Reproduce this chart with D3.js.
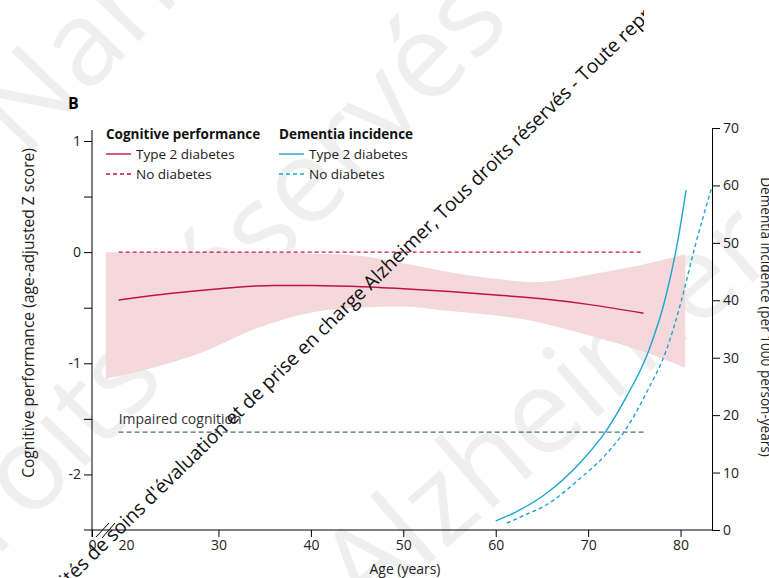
<html>
<head>
<meta charset="utf-8">
<script src="https://cdnjs.cloudflare.com/ajax/libs/d3/7.8.5/d3.min.js"></script>
<style>
body {margin:0; background:#fff;}
svg {display:block;}
text {font-family:"Open Sans", sans-serif;}
</style>
</head>
<body>
<svg width="769" height="578"></svg>
<script>
// ticks
const ageTicks = [0, 20, 30, 40, 50, 60, 70, 80];
const zTicks = [1, 0.5, 0, -0.5, -1, -1.5, -2];
const dementiaTicks = [0, 10, 20, 30, 40, 50, 60, 70];

// cognitive performance, type 2 diabetes (age-adjusted Z score)
const cogAge = [19.2, 22, 25, 28, 32, 36, 40, 45, 50, 55, 60, 65, 70, 76];
const cogT2D = [-0.43, -0.40, -0.37, -0.345, -0.315, -0.30, -0.30, -0.31, -0.33, -0.355, -0.385, -0.42, -0.47, -0.55];
// confidence band
const bandAge = [17.8, 22, 28, 34, 39, 45, 50, 55, 60, 64, 67, 71, 75.5, 80.5];
const bandUpper = [0, 0, 0, 0, -0.01, -0.03, -0.10, -0.18, -0.24, -0.27, -0.25, -0.19, -0.12, -0.02];
const bandLower = [-1.14, -1.06, -0.91, -0.69, -0.56, -0.50, -0.49, -0.53, -0.57, -0.62, -0.68, -0.77, -0.88, -1.04];
// reference lines
const refAge = [19.2, 76];
const cogNoDiabetes = [0, 0];
const impaired = [-1.62, -1.62];

// dementia incidence (per 1000 person-years)
const demAgeT2D = [60, 62, 65.5, 69, 72, 74, 76.5, 78.3, 79.6, 80.6];
const demT2D = [1.6, 3.0, 6.4, 11.5, 17.4, 22.8, 31, 40, 49.5, 59.2];
const demAgeNo = [61.2, 63, 65.5, 69, 72, 73.9, 76.4, 78.5, 80.1, 81.5, 83.4];
const demNo = [1.2, 2.5, 4.4, 8.8, 13.3, 17.1, 24.2, 31.5, 40, 49, 59.8];

const legendCols = ["Cognitive performance", "Dementia incidence"];
const legendRows = ["Type 2 diabetes", "No diabetes"];

const red = "#c3124a", blue = "#1ca6d0", pink = "#f5d8da", slate = "#4f6b78";

const svg = d3.select("svg");
svg.append("rect").attr("width", 769).attr("height", 578).attr("fill", "#fff");

// broken age axis: 0 sits at the y axis, data ages start after the break
const x = d3.scaleLinear().domain([0, 17, 83.4]).range([92, 98.3, 712]);
const yL = d3.scaleLinear().domain([-2.5, 1]).range([530, 141]);
const yR = d3.scaleLinear().domain([0, 70]).range([530, 128]);

// faint background watermark
const big = svg.append("g").attr("fill", "#000").attr("opacity", 0.06)
  .attr("font-family", "Liberation Sans").attr("font-size", 118).attr("dominant-baseline", "central");
big.append("text").attr("transform", "translate(-8,128) rotate(-46)").text("Nantes");
big.append("text").attr("text-anchor", "end").attr("transform", "translate(480,-8) rotate(-46)").text("droits réservés");
big.append("text").attr("transform", "translate(335,585) rotate(-41)").text("Alzheimer");

// band
const band = bandAge.map((a, i) => ({a: a, u: bandUpper[i], l: bandLower[i]}));
svg.append("path").datum(band)
  .attr("fill", pink)
  .attr("d", d3.area().x(d => x(d.a)).y0(d => yL(d.l)).y1(d => yL(d.u)).curve(d3.curveMonotoneX));

const lineL = (ages, vals) => d3.line().x((d, i) => x(ages[i])).y(d => yL(d)).curve(d3.curveMonotoneX)(vals);
const lineR = (ages, vals) => d3.line().x((d, i) => x(ages[i])).y(d => yR(d)).curve(d3.curveMonotoneX)(vals);

svg.append("path").attr("d", lineL(refAge, cogNoDiabetes)).attr("fill", "none")
  .attr("stroke", red).attr("stroke-width", 1.4).attr("stroke-dasharray", "4,3");
svg.append("path").attr("d", lineL(refAge, impaired)).attr("fill", "none")
  .attr("stroke", slate).attr("stroke-width", 1.3).attr("stroke-dasharray", "5,3");
svg.append("path").attr("d", lineL(cogAge, cogT2D)).attr("fill", "none")
  .attr("stroke", red).attr("stroke-width", 1.5);
svg.append("path").attr("d", lineR(demAgeT2D, demT2D)).attr("fill", "none")
  .attr("stroke", blue).attr("stroke-width", 1.4);
svg.append("path").attr("d", lineR(demAgeNo, demNo)).attr("fill", "none")
  .attr("stroke", blue).attr("stroke-width", 1.4).attr("stroke-dasharray", "4,3");

svg.append("text").attr("x", x(19.2)).attr("y", 424).attr("font-size", 14).attr("fill", "#333")
  .text("Impaired cognition");

// axes
const fmt = d => d < 0 ? "-" + Math.abs(d) : String(d);
const gx = svg.append("g").attr("transform", "translate(0,530)")
  .call(d3.axisBottom(x).tickValues(ageTicks).tickSize(7).tickSizeOuter(0).tickFormat(fmt));
gx.select(".domain").remove();
gx.selectAll(".tick").filter(d => d === 20).select("line").remove();
gx.append("line").attr("x1", 84).attr("x2", 712).attr("stroke", "#000");
// axis break
gx.append("line").attr("x1", 96).attr("y1", 7).attr("x2", 109).attr("y2", -7).attr("stroke", "#000");
gx.append("line").attr("x1", 102).attr("y1", 8).attr("x2", 115).attr("y2", -7).attr("stroke", "#000");

const gl = svg.append("g").attr("transform", "translate(92,0)")
  .call(d3.axisLeft(yL).tickValues(zTicks).tickSize(8).tickSizeOuter(0)
    .tickFormat(d => Number.isInteger(d) ? fmt(d) : ""));
gl.select(".domain").remove();
gl.append("line").attr("y1", 130).attr("y2", 537).attr("stroke", "#000");

const gr = svg.append("g").attr("transform", "translate(712,0)")
  .call(d3.axisRight(yR).tickValues(dementiaTicks).tickSize(8).tickSizeOuter(0));

svg.selectAll(".tick text").attr("font-family", "Open Sans").attr("font-size", 14).attr("fill", "#222");

// axis titles, sized to the width they take in the figure
function title(tr, str, w) {
  const t = svg.append("text").attr("transform", tr).attr("text-anchor", "middle")
    .attr("dominant-baseline", "central").attr("font-size", 14).attr("fill", "#222").text(str);
  t.attr("font-size", 14 * w / t.node().getComputedTextLength());
}
title("translate(405,568)", "Age (years)", 71);
title("translate(28,313) rotate(-90)", "Cognitive performance (age-adjusted Z score)", 330);
title("translate(766,317) rotate(90)", "Dementia incidence (per 1000 person-years)", 280);

svg.append("text").attr("x", 68).attr("y", 103).attr("dominant-baseline", "central")
  .attr("font-size", 16).attr("font-weight", "bold").text("B");

// legend
const lg = svg.append("g");
legendCols.forEach((c, ci) => {
  const x0 = ci === 0 ? 106 : 279;
  const col = ci === 0 ? red : blue;
  lg.append("text").attr("x", x0).attr("y", 134).attr("dominant-baseline", "central")
    .attr("font-size", 13.5).attr("font-weight", "bold").attr("fill", "#111").text(c);
  legendRows.forEach((r, ri) => {
    const yy = 154 + ri * 20;
    lg.append("line").attr("x1", x0).attr("x2", x0 + 25).attr("y1", yy).attr("y2", yy)
      .attr("stroke", col).attr("stroke-width", 1.4).attr("stroke-dasharray", ri === 1 ? "4,3" : null);
    lg.append("text").attr("x", x0 + 30).attr("y", yy).attr("dominant-baseline", "central")
      .attr("font-size", 13.5).attr("fill", "#222").text(r);
  });
});

// overlaid watermark text
svg.append("defs").append("clipPath").attr("id", "wmclip")
  .append("rect").attr("x", 0).attr("y", 0).attr("width", 644).attr("height", 578);
const wm = "Unités de soins d'évaluation et de prise en charge Alzheimer, Tous droits réservés - Toute reproduction interdite";
const wg = svg.append("g").attr("clip-path", "url(#wmclip)");
const wt = wg.append("text").attr("font-family", "Liberation Sans").attr("font-size", 18)
  .attr("dominant-baseline", "central").attr("fill", "#111").text(wm);
const i0 = wm.indexOf("ités"), i1 = wm.indexOf("rep") + 3;
const node = wt.node();
const span = node.getSubStringLength(i0, i1 - i0);
const p0 = [62, 582], p1 = [642, 16];
const len = Math.hypot(p1[0] - p0[0], p1[1] - p0[1]);
const ang = Math.atan2(p1[1] - p0[1], p1[0] - p0[0]);
const k = len / span;
wt.attr("font-size", 18 * k);
const pre = node.getSubStringLength(0, i0);
const ox = p0[0] - pre * Math.cos(ang), oy = p0[1] - pre * Math.sin(ang);
wt.attr("transform", "translate(" + ox + "," + oy + ") rotate(" + (ang * 180 / Math.PI) + ")");
</script>
</body>
</html>
